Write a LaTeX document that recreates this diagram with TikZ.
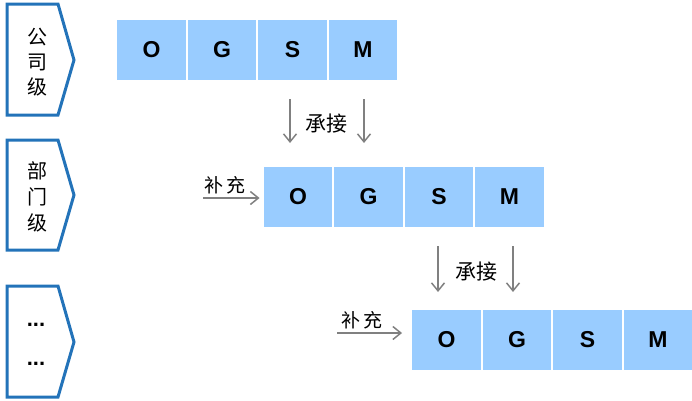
\documentclass[tikz,border=0pt]{standalone}
\usepackage{fontspec}
\setmainfont{Liberation Sans}
\newfontfamily\cjk{Noto Sans CJK SC}
\usetikzlibrary{arrows.meta}
\definecolor{boxblue}{RGB}{153,204,255}
\definecolor{chevblue}{RGB}{35,115,185}
\definecolor{arrgray}{RGB}{128,128,128}
\begin{document}
\begin{tikzpicture}[x=1pt,y=-1pt,
  letter/.style={fill=boxblue,minimum width=68.5pt,minimum height=60pt,inner sep=0pt,font=\fontsize{23}{23}\selectfont\bfseries},
  chev/.style={draw=chevblue,line width=3pt,line join=miter},
  lvl/.style={font=\cjk\fontsize{20}{20}\selectfont,align=center,inner sep=0pt},
  dots/.style={font=\fontsize{22}{22}\selectfont\bfseries,inner sep=0pt},
  flow/.style={draw=arrgray,line width=1.6pt,-{Straight Barb[length=8pt,width=13pt,line width=1.5pt]}},
  lab/.style={font=\cjk\fontsize{21}{21}\selectfont,inner sep=0pt},
  sup/.style={font=\cjk\fontsize{19}{19}\selectfont,inner sep=0pt}]
\useasboundingbox (0,0) rectangle (692,400);
% chevrons
\draw[chev] (7,4) -- (58,4) -- (74,60) -- (58,115) -- (7,115) -- cycle;
\draw[chev] (7,140) -- (58,140) -- (74,195) -- (58,250) -- (7,250) -- cycle;
\draw[chev] (7,286) -- (58,286) -- (74,342) -- (58,397) -- (7,397) -- cycle;
\node[lvl] (l1a) at (37,37) {公};
\node[lvl] (l1b) at (37,62) {司};
\node[lvl] (l1c) at (37,87) {级};
\node[lvl] (l2a) at (37,171) {部};
\node[lvl] (l2b) at (37,197) {门};
\node[lvl] (l2c) at (37,223) {级};
\node[dots] (l3a) at (36,325) {...};
\node[dots] (l3b) at (36,364) {...};
% row 1
\node[letter] (o1) at (151.5,50) {O};
\node[letter] (g1) at (222,50) {G};
\node[letter] (s1) at (292.5,50) {S};
\node[letter] (m1) at (363,50) {M};
% row 2
\node[letter] (o2) at (298,197) {O};
\node[letter] (g2) at (368.5,197) {G};
\node[letter] (s2) at (439,197) {S};
\node[letter] (m2) at (509.5,197) {M};
% row 3
\node[letter] (o3) at (446.5,340) {O};
\node[letter] (g3) at (517,340) {G};
\node[letter] (s3) at (587.5,340) {S};
\node[letter] (m3) at (658,340) {M};
% inherit arrows
\coordinate (a1s) at (290,99);  \coordinate (a1e) at (290,143);
\coordinate (b1s) at (364,99);  \coordinate (b1e) at (364,143);
\draw[flow] (a1s) -- (a1e);
\draw[flow] (b1s) -- (b1e);
\node[lab] (c1) at (326,124) {承接};
\coordinate (a2s) at (438,246);  \coordinate (a2e) at (438,292);
\coordinate (b2s) at (513,246);  \coordinate (b2e) at (513,292);
\draw[flow] (a2s) -- (a2e);
\draw[flow] (b2s) -- (b2e);
\node[lab] (c2) at (476,272) {承接};
% supplement arrows
\coordinate (p2) at (203,198);
\draw[flow,line width=1.3pt,shorten >=4pt] (p2) -- (o2.west |- p2);
\node[sup] (t2) at (225,185) {补\hspace{3pt}充};
\coordinate (p3) at (337,333);
\draw[flow,line width=1.3pt,shorten >=10pt] (p3) -- (o3.west |- p3);
\node[sup] (t3) at (362,320) {补\hspace{3pt}充};
\end{tikzpicture}
\end{document}
